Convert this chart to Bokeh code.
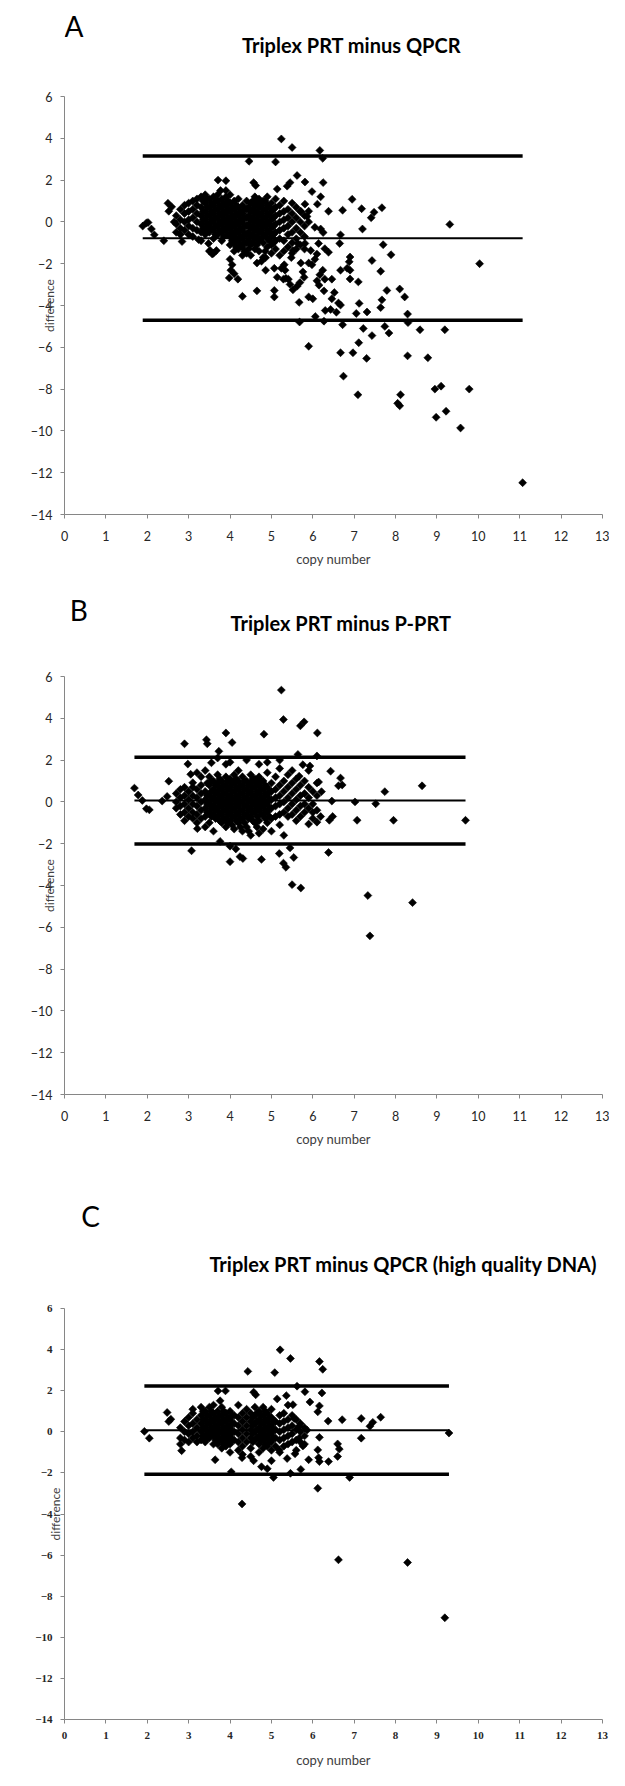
import math
from bokeh.plotting import figure
from bokeh.layouts import column
from bokeh.models import Label, FixedTicker, Range1d
from bokeh.embed import file_html
from bokeh.resources import INLINE

# ---------------- data ----------------
x_ticks = list(range(0, 14))
y_ticks = list(range(-14, 7, 2))
x_label = "copy number"
y_label = "difference"

a_letter = "A"
a_title = "Triplex PRT minus QPCR"
a_limits = [3.15, -0.78, -4.71]          # upper LoA, mean, lower LoA
a_outliers = [
    (1.89, -0.2), (2.02, -0.03), (1.98, -0.05), (2.1, -0.34), (2.17, -0.62), (2.4, -0.9), (2.5, 0.89),
    (2.52, 0.51), (2.59, 0.72), (2.65, 0.0), (2.84, -0.94),
    (5.24, 3.97), (5.5, 3.56), (4.46, 2.9), (5.1, 2.87), (6.17, 3.42), (6.24, 3.04), (5.62, 2.22),
    (6.25, 1.88), (5.81, 1.91), (4.57, 1.88), (4.62, 1.74), (3.71, 2.0), (3.9, 1.97), (3.77, 1.5),
    (5.14, 1.57), (5.38, 1.71), (5.45, 1.88), (5.98, 1.45), (6.19, 1.2), (6.11, 0.85),
    (6.95, 1.08), (6.72, 0.56), (7.18, 0.63), (7.2, -0.34), (7.41, 0.2), (7.48, 0.46), (7.67, 0.68),
    (9.31, -0.12), (6.38, 0.51), (6.67, -0.62), (6.65, -1.03),
    (7.7, -1.09), (7.89, -1.57), (10.03, -2.0), (7.43, -1.85), (6.9, -1.68), (6.88, -1.91), (6.83, -2.22),
    (6.67, -2.31), (6.9, -2.31), (6.9, -2.73), (7.1, -2.87), (7.64, -2.36), (7.79, -3.28), (7.67, -3.73),
    (7.64, -4.1), (8.1, -3.21), (8.22, -3.59), (8.29, -4.41), (8.3, -4.82), (8.59, -5.16), (9.19, -5.16),
    (7.74, -5.0), (7.84, -5.32), (7.43, -5.44), (7.22, -5.1), (7.31, -4.31), (7.12, -3.9), (7.05, -4.38),
    (7.11, -5.78), (6.97, -6.26), (7.3, -6.53), (6.67, -6.26), (6.74, -7.38), (7.09, -8.27), (6.72, -4.92),
    (6.67, -3.98), (6.57, -4.32), (6.62, -3.88), (6.46, -3.68), (6.52, -3.38), (6.46, -2.74), (6.29, -2.74),
    (6.38, -1.45), (6.29, -1.28), (6.24, -2.31), (6.27, -3.3), (6.3, -4.24), (6.43, -4.19), (6.27, -4.75),
    (6.06, -4.53), (5.9, -5.95), (5.68, -4.79),
    (8.29, -6.41), (8.78, -6.5), (8.05, -8.68), (8.1, -8.8), (8.12, -8.27), (8.95, -8.0), (9.1, -7.86),
    (9.78, -8.0), (8.98, -9.35), (9.22, -9.06), (9.57, -9.86), (11.07, -12.48),
    (5.67, -3.85), (5.9, -3.59), (6.0, -3.68), (6.1, -2.82), (6.15, -3.03), (6.17, -2.53), (6.05, -1.79),
    (5.98, -2.05), (5.9, -1.97), (5.71, -1.97), (5.76, -2.39), (5.79, -2.65), (5.69, -2.9), (5.62, -3.08),
    (5.52, -3.25), (5.45, -2.99), (5.35, -2.7), (5.33, -2.31), (5.31, -2.05), (5.24, -2.22), (5.48, -1.71),
    (5.52, -1.37), (5.64, -1.03), (5.81, -1.03), (5.95, -1.37), (6.1, -1.54), (6.14, -1.03), (6.19, -0.34),
    (6.25, -0.51), (6.05, -0.26), (5.9, 0.0), (5.86, 0.26), (5.71, 0.51), (5.81, 0.85), (5.9, 0.51),
    (4.0, -1.79), (4.05, -2.05), (4.02, -2.31), (4.1, -2.48), (3.98, -2.68), (4.19, -2.74), (4.3, -3.56),
    (4.65, -3.3), (4.86, -2.31), (5.07, -2.22), (5.07, -3.28), (5.07, -3.59), (5.14, -2.65), (5.29, -2.74),
    (5.41, -2.74), (4.86, -1.71), (4.76, -1.88), (4.65, -1.97),
    (3.52, -1.37), (3.57, -1.54), (3.67, -1.37), (3.48, -1.03), (3.24, -0.85),
]
a_cluster = {
    2.7: [0.3, -0.1, -0.5],
    2.8: [0.6, 0.1, -0.3, -0.6],
    2.9: [0.4, 0.0, -0.4, 0.8],
    3.0: [0.9, 0.5, 0.1, -0.2, -0.6],
    3.1: [1.0, 0.6, 0.2, -0.3, -0.7],
    3.2: [0.8, 0.4, 0.0, -0.4, 1.1],
    3.3: [1.2, 0.7, 0.3, -0.1, -0.5, -0.9],
    3.4: [1.3, 0.9, 0.5, 0.1, -0.3, -0.6],
    3.5: [1.1, 0.7, 0.3, -0.1, -0.5, -1.4],
    3.6: [1.2, 0.8, 0.4, 0.0, -0.4, -0.8, -1.5],
    3.7: [1.0, 0.6, 0.2, -0.2, -0.6, 1.3],
    3.8: [1.1, 0.7, 0.3, -0.1, -0.5, -0.9],
    3.9: [1.2, 0.8, 0.4, 0.0, -0.4, 1.5],
    4.0: [0.9, 0.5, 0.1, -0.3, -0.7, -1.1, 1.3],
    4.1: [1.0, 0.6, 0.2, -0.2, -0.6, -1.0, -1.4],
    4.2: [1.1, 0.7, 0.3, -0.1, -0.5, -0.9, -1.3],
    4.3: [0.8, 0.4, 0.0, -0.4, -0.8, -1.2, -1.6],
    4.4: [1.0, 0.6, 0.2, -0.2, -0.6, -1.0, -1.5],
    4.5: [0.9, 0.5, 0.1, -0.3, -0.7, -1.1, -1.6],
    4.6: [1.2, 0.8, 0.4, 0.0, -0.4, -0.8, -1.3],
    4.7: [1.1, 0.7, 0.3, -0.1, -0.5, -0.9, -1.4],
    4.8: [1.0, 0.6, 0.2, -0.2, -0.6, -1.0, -1.7],
    4.9: [1.2, 0.8, 0.4, 0.0, -0.4, -0.8, -1.2],
    5.0: [0.9, 0.5, 0.1, -0.3, -0.7, -1.1, -1.5],
    5.1: [0.7, 0.3, -0.1, -0.5, -0.9, -1.3, 1.1],
    5.2: [0.8, 0.4, 0.0, -0.4, -0.8, -1.6],
    5.3: [1.0, 0.5, 0.1, -0.3, -0.9, -1.4],
    5.4: [0.6, 0.2, -0.2, -0.6, -1.2],
    5.5: [0.9, 0.4, 0.0, -0.5, -1.0, -1.5],
    5.6: [0.7, 0.2, -0.3, -0.8, -1.3],
    5.7: [0.5, 0.0, -0.5, -1.1],
    5.8: [0.3, -0.2, -0.7, -1.3],
    3.35: [1.0, 0.5, 0.1, -0.3],
    3.45: [1.1, 0.7, 0.3, -0.1, -0.4],
    3.55: [0.9, 0.5, 0.1, -0.3],
    3.65: [1.0, 0.6, 0.2, -0.2, -0.6],
    3.75: [0.8, 0.4, 0.0, -0.4],
    3.85: [0.9, 0.5, 0.1, -0.3, -0.7],
    3.95: [1.0, 0.6, 0.2, -0.2, -0.6],
    4.05: [0.7, 0.3, -0.1, -0.5, -0.9],
    4.15: [0.8, 0.4, 0.0, -0.4, -0.8, -1.2],
    4.25: [0.5, 0.1, -0.3, -0.7, -1.1],
    4.35: [0.6, 0.2, -0.2, -0.6, -1.0, -1.4],
    4.45: [0.7, 0.3, -0.1, -0.5, -0.9, -1.3],
    4.55: [1.0, 0.6, 0.2, -0.2, -0.6, -1.0],
    4.65: [0.9, 0.5, 0.1, -0.3, -0.7, -1.1],
    4.75: [0.8, 0.4, 0.0, -0.4, -0.8],
    4.85: [1.0, 0.6, 0.2, -0.2, -0.6, -1.4],
    4.95: [0.7, 0.3, -0.1, -0.5, -0.9],
    5.05: [0.6, 0.2, -0.2, -0.6, -1.0],
}

b_letter = "B"
b_title = "Triplex PRT minus P-PRT"
b_limits = [2.14, 0.07, -2.01]
b_outliers = [
    (1.69, 0.66), (1.78, 0.33), (1.88, 0.07), (1.98, -0.33), (2.05, -0.38), (2.36, 0.04), (2.48, 0.26),
    (2.52, 0.99), (2.9, 2.78), (2.98, 1.81), (3.05, 1.32), (3.1, 0.92), (3.07, -2.34), (3.21, -1.28),
    (3.1, -0.79), (3.43, 2.97), (3.45, 2.78), (3.55, 1.87), (3.73, 2.42), (3.9, 3.3), (4.05, 2.84),
    (4.82, 3.24), (5.24, 5.35), (5.29, 3.94), (5.7, 3.64), (5.79, 3.83), (6.11, 3.3), (4.0, -2.86),
    (3.76, -1.89), (4.0, -2.12), (4.14, -2.25), (4.24, -2.62), (4.31, -2.71), (4.76, -2.75), (5.19, -2.47),
    (5.29, -2.93), (5.35, -3.13), (5.54, -2.66), (5.45, -2.2), (5.5, -3.96), (5.71, -4.12), (6.38, -2.42),
    (7.33, -4.48), (7.38, -6.41), (8.41, -4.82), (8.64, 0.77), (7.74, 0.49), (7.52, -0.09), (7.02, 0.0),
    (7.07, -0.88), (7.95, -0.88), (9.69, -0.88), (6.67, 1.14), (6.62, 0.77), (6.71, 0.81), (6.43, 1.47),
    (6.46, 0.04), (6.48, -0.7), (6.4, -0.88), (6.1, 2.2), (6.14, 0.95), (6.21, 0.49), (5.93, 1.72),
    (5.9, 1.5), (5.76, 1.78), (5.64, 2.27), (5.67, 1.23), (5.9, -1.06), (6.1, -0.97), (6.19, -0.7),
    (6.0, -0.79),
]
b_cluster = {
    2.7: [0.4, 0.0, -0.3],
    2.8: [0.6, 0.2, -0.2, -0.6],
    2.9: [0.7, 0.3, -0.1, -0.5, -0.9],
    3.0: [0.5, 0.1, -0.3, -0.7],
    3.1: [0.3, -0.1, -0.5, 0.7],
    3.2: [1.4, 0.6, 0.2, -0.2, -0.6, -1.0],
    3.3: [1.2, 0.8, 0.4, 0.0, -0.4, -0.8],
    3.4: [1.5, 0.5, 0.1, -0.3, -0.7, -1.2],
    3.5: [1.2, 0.8, 0.3, -0.1, -0.5, -1.0],
    3.6: [1.0, 0.6, 0.2, -0.2, -0.6, -1.4],
    3.7: [1.3, 0.9, 0.5, 0.1, -0.3, -0.7, 2.1],
    3.8: [1.0, 0.6, 0.2, -0.2, -0.6, -1.0],
    3.9: [1.8, 1.2, 0.8, 0.4, 0.0, -0.4, -0.8, -1.2],
    4.0: [1.1, 0.7, 0.3, -0.1, -0.5, -0.9, 1.9],
    4.1: [1.3, 0.9, 0.5, 0.1, -0.3, -0.7, -1.3],
    4.2: [1.5, 1.0, 0.6, 0.2, -0.2, -0.6, -1.0],
    4.3: [1.2, 0.8, 0.4, 0.0, -0.4, -0.8, -1.4],
    4.4: [2.0, 1.0, 0.6, 0.2, -0.2, -0.6, -1.2],
    4.5: [1.3, 0.9, 0.5, 0.1, -0.3, -0.7, -1.6],
    4.6: [1.1, 0.7, 0.3, -0.1, -0.5, -1.0],
    4.7: [1.8, 1.2, 0.8, 0.4, 0.0, -0.4, -0.9, -1.5],
    4.8: [1.0, 0.6, 0.2, -0.2, -0.6, -1.3],
    4.9: [1.4, 0.7, 0.3, -0.1, -0.5, -1.0, 1.9],
    5.0: [0.9, 0.5, 0.1, -0.3, -0.8, -1.4],
    5.1: [1.2, 0.6, 0.2, -0.2, -0.7],
    5.2: [1.6, 0.8, 0.3, -0.1, -0.6, -1.1, 2.0],
    5.3: [1.0, 0.5, 0.0, -0.5, -1.6],
    5.4: [1.3, 0.7, 0.2, -0.3, -0.7],
    5.5: [0.9, 0.4, -0.1, -0.6, 1.5],
    5.6: [1.1, 0.6, 0.1, -0.4, -0.9],
    5.7: [0.8, 0.3, -0.2, -0.7],
    5.8: [1.0, 0.4, -0.1, -0.5],
    5.9: [0.7, 0.2, -0.3],
    6.0: [0.5, -0.1, -0.5],
    6.1: [0.9, 0.3, -0.4],
    3.45: [0.9, 0.3, -0.1, -0.5],
    3.55: [1.0, 0.5, 0.1, -0.3, -0.7],
    3.65: [0.8, 0.4, 0.0, -0.4, -0.8],
    3.75: [1.1, 0.7, 0.3, -0.1, -0.5, -0.9],
    3.85: [0.8, 0.4, 0.0, -0.4, -0.8],
    3.95: [1.0, 0.6, 0.2, -0.2, -0.6, -1.0],
    4.05: [0.9, 0.5, 0.1, -0.3, -0.7, -1.1],
    4.15: [1.1, 0.7, 0.3, -0.1, -0.5, -0.9],
    4.25: [0.8, 0.4, 0.0, -0.4, -0.8, -1.2],
    4.35: [1.0, 0.6, 0.2, -0.2, -0.6, -1.0],
    4.45: [0.8, 0.4, 0.0, -0.4, -0.8, -1.4],
    4.55: [1.1, 0.7, 0.3, -0.1, -0.5, -0.9],
    4.65: [0.9, 0.5, 0.1, -0.3, -0.7, -1.2],
    4.75: [1.0, 0.6, 0.2, -0.2, -0.6],
    4.85: [0.8, 0.4, 0.0, -0.4, -0.8],
    4.95: [0.5, 0.1, -0.3, -0.7],
}

c_letter = "C"
c_title = "Triplex PRT minus QPCR (high quality DNA)"
c_limits = [2.23, 0.08, -2.06]
c_outliers = [
    (1.93, 0.02), (2.05, -0.31), (2.48, 0.94), (2.52, 0.5), (2.57, 0.61), (2.83, -0.92), (5.21, 3.99),
    (5.46, 3.57), (4.43, 2.94), (5.08, 2.88), (6.16, 3.42), (6.24, 3.04), (5.62, 2.22), (5.81, 1.95),
    (6.22, 1.89), (4.57, 1.93), (4.62, 1.8), (3.71, 1.99), (3.89, 1.99), (3.76, 1.51), (5.14, 1.6),
    (5.36, 1.76), (5.52, 1.32), (5.93, 1.45), (6.16, 1.26), (6.12, 0.97), (6.37, 0.52), (6.71, 0.59),
    (7.17, 0.65), (7.17, -0.31), (7.38, 0.27), (7.45, 0.46), (7.64, 0.71), (9.29, -0.06), (6.6, -0.59),
    (6.64, -0.84), (6.6, -1.2), (6.38, -1.45), (6.14, -1.26), (6.16, -1.45), (6.12, -0.88), (6.16, -0.27),
    (5.9, -1.36), (5.71, -1.83), (5.46, -2.02), (5.05, -2.22), (4.9, -1.8), (4.76, -1.7), (4.57, -1.41),
    (4.29, -1.26), (4.03, -1.95), (3.64, -1.36), (4.29, -3.51), (6.12, -2.75), (6.89, -2.22), (6.62, -6.23),
    (8.29, -6.36), (9.19, -9.05), (5.0, -1.41), (5.19, -0.88), (5.38, -1.3), (5.57, -1.07), (5.76, -0.69),
    (5.67, -0.31), (5.86, 0.08), (5.67, 0.27), (5.55, 0.65),
]
c_cluster = {
    2.8: [0.2, -0.3, -0.6],
    2.9: [0.5, 0.0, -0.4],
    3.0: [0.7, 0.3, -0.1, -0.5],
    3.1: [0.9, 0.4, 0.0, -0.3, 1.1],
    3.2: [0.6, 0.2, -0.2, -0.5],
    3.3: [1.2, 0.8, 0.4, 0.0, -0.4],
    3.4: [1.0, 0.6, 0.2, -0.2, -0.5],
    3.5: [1.2, 0.8, 0.4, 0.0, -0.3],
    3.6: [1.3, 0.9, 0.5, 0.1, -0.2, -0.6],
    3.7: [1.0, 0.6, 0.2, -0.2, -0.6],
    3.8: [1.2, 0.8, 0.4, 0.0, -0.4, -0.8],
    3.9: [0.9, 0.5, 0.1, -0.3, -0.7],
    4.0: [1.0, 0.6, 0.2, -0.2, -0.6, -1.0],
    4.1: [0.8, 0.4, 0.0, -0.4],
    4.2: [1.3, 0.7, 0.3, -0.1, -0.5, -0.9],
    4.3: [0.9, 0.5, 0.1, -0.3, -0.7, -1.1],
    4.4: [1.1, 0.7, 0.3, -0.1, -0.5],
    4.5: [0.9, 0.5, 0.1, -0.3, -0.8, -1.2],
    4.6: [1.2, 0.8, 0.4, 0.0, -0.4],
    4.7: [1.0, 0.6, 0.2, -0.2, -0.6, -1.0],
    4.8: [1.2, 0.8, 0.4, 0.0, -0.4, -0.8],
    4.9: [0.9, 0.5, 0.1, -0.3, -0.7],
    5.0: [0.7, 0.3, -0.1, -0.5, -0.9, 1.1],
    5.1: [0.5, 0.1, -0.3, -0.7],
    5.2: [0.8, 0.4, 0.0, -0.4, -1.0],
    5.3: [0.9, 0.5, 0.1, -0.3, -0.7],
    5.4: [0.6, 0.2, -0.2, -0.6, 1.3],
    5.5: [0.8, 0.3, -0.1, -0.5],
    5.6: [0.6, 0.1, -0.4, -0.9],
    5.7: [0.4, 0.0, -0.5],
    5.8: [0.2, -0.2, -0.6],
    3.35: [1.0, 0.6, 0.2, -0.2],
    3.45: [0.8, 0.4, 0.0, -0.3],
    3.55: [1.0, 0.6, 0.2, -0.1],
    3.65: [0.7, 0.3, -0.1, -0.4],
    3.75: [0.8, 0.4, 0.0, -0.4],
    3.85: [1.0, 0.6, 0.2, -0.2, -0.6],
    3.95: [0.7, 0.3, -0.1, -0.5],
    4.05: [0.8, 0.4, 0.0, -0.4],
    4.55: [0.7, 0.3, -0.1, -0.5],
    4.65: [0.9, 0.5, 0.1, -0.3],
    4.75: [0.8, 0.4, 0.0, -0.4],
    4.85: [1.0, 0.6, 0.2, -0.2, -0.6],
    4.95: [0.7, 0.3, -0.1, -0.5],
    5.05: [0.5, 0.1, -0.3],
}

# ---------------- styling / layout ----------------
SANS = "Lato"
FIG_W = 609
PAGE_M = 8


def points(outliers, cluster):
    xs = [p[0] for p in outliers]
    ys = [p[1] for p in outliers]
    for cx, vals in cluster.items():
        for v in vals:
            xs.append(cx)
            ys.append(v)
    return xs, ys


def make_header(letter, title, cfg):
    top, h = cfg["head_top"], cfg["head_h"]
    p = figure(width=FIG_W, height=h, x_range=Range1d(0, FIG_W), y_range=Range1d(h, 0),
               x_axis_type=None, y_axis_type=None, output_backend="svg",
               toolbar_location=None, min_border=0)
    p.outline_line_color = None
    p.background_fill_color = "white"
    p.border_fill_color = "white"
    lx, ly = cfg["letter_pos"]
    p.add_layout(Label(x=lx - PAGE_M, y=ly - top, text=letter, text_font=SANS,
                       text_font_size="28px", text_align="left", text_baseline="alphabetic",
                       text_color="black"))
    tx, ty = cfg["title_pos"]
    p.add_layout(Label(x=tx - PAGE_M, y=ty - top, text=title, text_font=SANS,
                       text_font_size=cfg["title_size"], text_font_style="bold",
                       text_align="left", text_baseline="alphabetic", text_color="black"))
    return p


def make_panel(outliers, cluster, limits, cfg):
    top = cfg["page_top"]
    h = cfg["height"]
    fl, fr = cfg["frame_left"], cfg["frame_right"]
    ft, fb = cfg["frame_top"], cfg["frame_bottom"]
    p = figure(width=FIG_W, height=h,
               x_range=Range1d(0, 13), y_range=Range1d(-14, 6),
               output_backend="svg", toolbar_location=None,
               min_border_left=fl - PAGE_M, min_border_right=FIG_W - (fr - PAGE_M),
               min_border_top=ft - top, min_border_bottom=h - (fb - top))
    p.outline_line_color = None
    p.xgrid.visible = False
    p.ygrid.visible = False
    p.background_fill_color = "white"
    p.border_fill_color = "white"

    for ax, ticks in ((p.xaxis[0], x_ticks), (p.yaxis[0], y_ticks)):
        ax.ticker = FixedTicker(ticks=ticks)
        ax.axis_line_color = "#868686"
        ax.major_tick_line_color = "#868686"
        ax.major_tick_in = 0
        ax.major_tick_out = 4
        ax.minor_tick_line_color = None
        ax.major_label_text_font = cfg["tick_font"]
        ax.major_label_text_font_size = cfg["tick_size"]
        ax.major_label_text_font_style = cfg["tick_style"]
        ax.major_label_text_color = "#262626"
        ax.axis_label_text_font = SANS
        ax.axis_label_text_font_style = "normal"
        ax.axis_label_text_color = "#404040"
    p.xaxis[0].axis_label = x_label
    p.xaxis[0].axis_label_text_font_size = "13px"
    p.xaxis[0].major_label_standoff = cfg["x_standoff"]
    p.xaxis[0].axis_label_standoff = cfg["x_label_standoff"]
    p.yaxis[0].axis_label = y_label
    p.yaxis[0].axis_label_text_font_size = "12px"
    p.yaxis[0].major_label_standoff = 8
    p.yaxis[0].axis_label_standoff = cfg["y_label_standoff"]

    xs, ys = points(outliers, cluster)
    x0, x1 = min(xs), max(xs)
    upper, mean, lower = limits
    p.line([x0, x1], [upper, upper], line_color="black", line_width=3.5)
    p.line([x0, x1], [mean, mean], line_color="black", line_width=2)
    p.line([x0, x1], [lower, lower], line_color="black", line_width=3.5)
    p.scatter(xs, ys, marker="square", size=5.6, angle=math.pi / 4,
              fill_color="black", line_color="black", line_width=0.6)
    return p


cfg_a = dict(head_top=8, head_h=84, letter_pos=(8, 33), title_pos=(209, 52), title_size="20px",
             page_top=92, height=490, frame_left=72, frame_right=610, frame_top=104, frame_bottom=522,
             tick_font="Lato", tick_size="12.5px", tick_style="normal", x_standoff=12,
             x_label_standoff=7, y_label_standoff=-29)
cfg_b = dict(head_top=582, head_h=88, letter_pos=(14, 617), title_pos=(196, 630), title_size="20px",
             page_top=670, height=490, frame_left=72, frame_right=610, frame_top=684, frame_bottom=1102,
             tick_font="Lato", tick_size="12.5px", tick_style="normal", x_standoff=12,
             x_label_standoff=7, y_label_standoff=-29)
cfg_c = dict(head_top=1160, head_h=140, letter_pos=(27, 1223), title_pos=(172, 1271), title_size="20px",
             page_top=1300, height=478, frame_left=69, frame_right=610, frame_top=1316, frame_bottom=1727,
             tick_font="Liberation Serif", tick_size="11px", tick_style="bold", x_standoff=8,
             x_label_standoff=10, y_label_standoff=-31)

ha = make_header(a_letter, a_title, cfg_a)
pa = make_panel(a_outliers, a_cluster, a_limits, cfg_a)
hb = make_header(b_letter, b_title, cfg_b)
pb = make_panel(b_outliers, b_cluster, b_limits, cfg_b)
hc = make_header(c_letter, c_title, cfg_c)
pc = make_panel(c_outliers, c_cluster, c_limits, cfg_c)

layout = column(ha, pa, hb, pb, hc, pc, spacing=0)
open("out.html", "w").write(file_html(layout, INLINE))
